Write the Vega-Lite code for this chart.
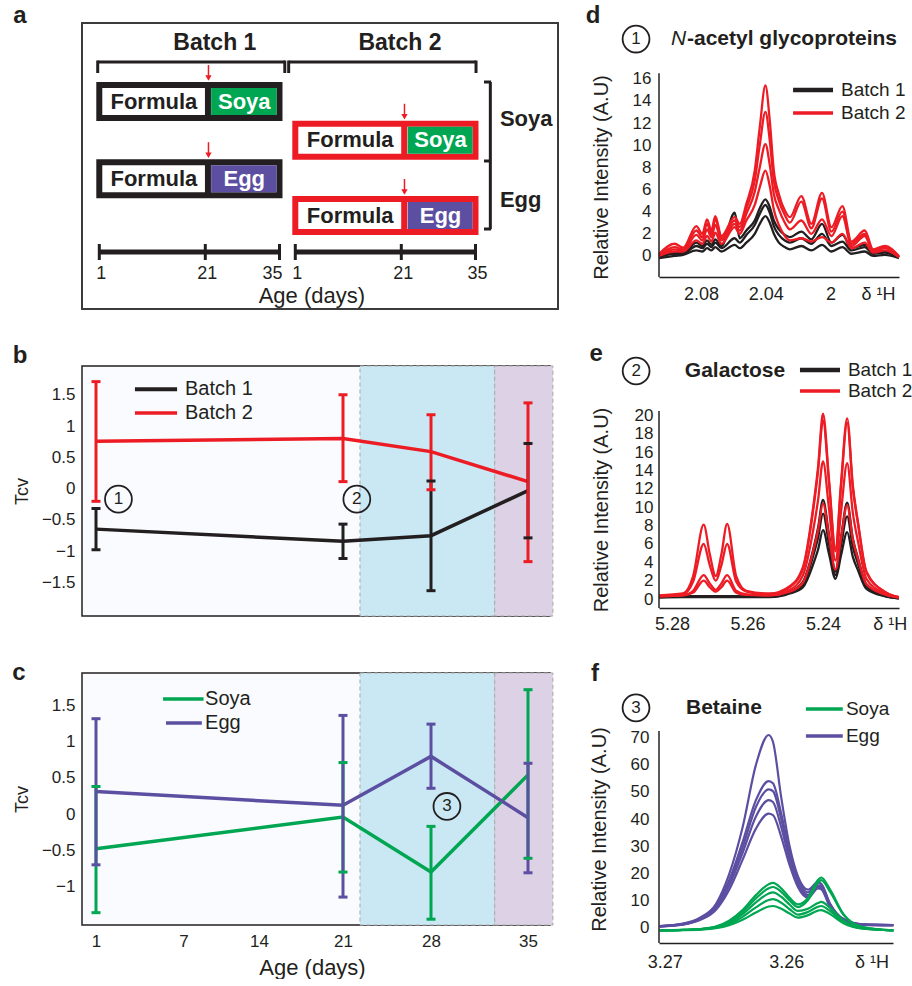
{
"$schema":"https://vega.github.io/schema/vega-lite/v6.json",
"padding":{"left":11,"top":3,"right":0,"bottom":0},
"background":"white",
"config":{"font":"Liberation Sans","view":{"stroke":null},"axis":{"labelColor":"#231f20","titleColor":"#231f20","grid":false,"ticks":false,"domain":false,"titleFontWeight":"normal"},"text":{"color":"#231f20"},"point":{"opacity":1},"tick":{"opacity":1}},
"datasets":{
"one":[{}],
"boxes1":[{"batch":"Batch 1","diet":"Soya","lvl":7.85},{"batch":"Batch 1","diet":"Egg","lvl":15.57}],
"boxes2":[{"batch":"Batch 2","diet":"Soya","lvl":11.73},{"batch":"Batch 2","diet":"Egg","lvl":19.25}],
"ticks":[{"day":1},{"day":21},{"day":35}],
"annB":[{"n":"1","age":2.54,"tcv":-0.17},{"n":"2","age":22.1,"tcv":-0.17}],
"annC":[{"n":"3","age":29.15,"tcv":0.105}],
"bio":[
{"series":"Batch 1","age":1,"mean":-0.65,"lo":-0.98,"hi":-0.32},
{"series":"Batch 1","age":21,"mean":-0.845,"lo":-1.12,"hi":-0.57},
{"series":"Batch 1","age":28,"mean":-0.755,"lo":-1.635,"hi":0.12},
{"series":"Batch 1","age":35,"mean":-0.035,"lo":-0.79,"hi":0.72},
{"series":"Batch 2","age":1,"mean":0.755,"lo":-0.205,"hi":1.71},
{"series":"Batch 2","age":21,"mean":0.8,"lo":0.11,"hi":1.5},
{"series":"Batch 2","age":28,"mean":0.59,"lo":-0.02,"hi":1.18},
{"series":"Batch 2","age":35,"mean":0.11,"lo":-1.17,"hi":1.37}],
"dietc":[
{"series":"Soya","age":1,"mean":-0.48,"lo":-1.36,"hi":0.38},
{"series":"Soya","age":21,"mean":-0.04,"lo":-0.8,"hi":0.71},
{"series":"Soya","age":28,"mean":-0.8,"lo":-1.45,"hi":-0.17},
{"series":"Soya","age":35,"mean":0.54,"lo":-0.61,"hi":1.715},
{"series":"Egg","age":1,"mean":0.31,"lo":-0.7,"hi":1.315},
{"series":"Egg","age":21,"mean":0.12,"lo":-1.145,"hi":1.36},
{"series":"Egg","age":28,"mean":0.795,"lo":0.355,"hi":1.24},
{"series":"Egg","age":35,"mean":-0.05,"lo":-0.81,"hi":0.7}],
"d1":[
{"ppm":2.106,"s1":0.0,"s2":-0.1,"s3":-0.2},
{"ppm":2.0963,"s1":0.3,"s2":0.2,"s3":0.0},
{"ppm":2.0911,"s1":0.3,"s2":0.2,"s3":0.1},
{"ppm":2.0829,"s1":1.2,"s2":0.9,"s3":0.5},
{"ppm":2.0792,"s1":0.9,"s2":0.7,"s3":0.4},
{"ppm":2.0763,"s1":1.4,"s2":1.1,"s3":0.7},
{"ppm":2.0736,"s1":1.0,"s2":0.8,"s3":0.5},
{"ppm":2.0712,"s1":1.5,"s2":1.2,"s3":0.8},
{"ppm":2.0674,"s1":0.9,"s2":0.7,"s3":0.4},
{"ppm":2.0592,"s1":3.9,"s2":1.6,"s3":1.0},
{"ppm":2.0561,"s1":1.6,"s2":1.2,"s3":0.7},
{"ppm":2.052,"s1":2.3,"s2":1.9,"s3":1.2},
{"ppm":2.0468,"s1":3.2,"s2":2.8,"s3":2.0},
{"ppm":2.0437,"s1":4.3,"s2":3.8,"s3":2.9},
{"ppm":2.0402,"s1":5.1,"s2":4.6,"s3":3.6},
{"ppm":2.0375,"s1":4.4,"s2":3.9,"s3":3.0},
{"ppm":2.035,"s1":3.2,"s2":2.7,"s3":2.0},
{"ppm":2.0319,"s1":2.4,"s2":1.9,"s3":1.2},
{"ppm":2.0282,"s1":1.9,"s2":1.4,"s3":0.8},
{"ppm":2.0251,"s1":1.7,"s2":1.2,"s3":0.6},
{"ppm":2.018,"s1":2.2,"s2":1.6,"s3":0.9},
{"ppm":2.0118,"s1":1.5,"s2":1.1,"s3":0.5},
{"ppm":2.0052,"s1":2.9,"s2":2.0,"s3":1.0},
{"ppm":1.9994,"s1":1.2,"s2":0.9,"s3":0.4},
{"ppm":1.9926,"s1":1.9,"s2":1.3,"s3":0.8},
{"ppm":1.987,"s1":0.7,"s2":0.5,"s3":0.2},
{"ppm":1.9788,"s1":1.0,"s2":0.8,"s3":0.4},
{"ppm":1.9736,"s1":0.3,"s2":0.2,"s3":0.0},
{"ppm":1.9664,"s1":0.4,"s2":0.3,"s3":0.1},
{"ppm":1.9576,"s1":-0.1,"s2":-0.1,"s3":-0.2}],
"d2":[
{"ppm":2.106,"s1":0.2,"s2":0.1,"s3":0.0,"s4":0.0},
{"ppm":2.0963,"s1":1.1,"s2":0.8,"s3":0.6,"s4":0.4},
{"ppm":2.0911,"s1":0.75,"s2":0.6,"s3":0.5,"s4":0.4},
{"ppm":2.0829,"s1":2.7,"s2":2.3,"s3":1.9,"s4":1.4},
{"ppm":2.0792,"s1":2.0,"s2":1.7,"s3":1.4,"s4":1.1},
{"ppm":2.0763,"s1":3.3,"s2":2.9,"s3":2.4,"s4":1.8},
{"ppm":2.0736,"s1":2.3,"s2":2.0,"s3":1.7,"s4":1.3},
{"ppm":2.0712,"s1":3.6,"s2":3.3,"s3":2.8,"s4":2.1},
{"ppm":2.0674,"s1":1.8,"s2":1.6,"s3":1.4,"s4":1.1},
{"ppm":2.0592,"s1":3.5,"s2":3.2,"s3":2.9,"s4":2.6},
{"ppm":2.0561,"s1":2.9,"s2":2.6,"s3":2.3,"s4":2.0},
{"ppm":2.052,"s1":4.7,"s2":4.3,"s3":3.8,"s4":3.2},
{"ppm":2.0468,"s1":7.7,"s2":6.8,"s3":5.8,"s4":4.6},
{"ppm":2.0437,"s1":11.6,"s2":10.0,"s3":8.0,"s4":6.2},
{"ppm":2.0402,"s1":15.4,"s2":13.0,"s3":10.1,"s4":7.7},
{"ppm":2.0375,"s1":12.2,"s2":10.4,"s3":8.2,"s4":6.3},
{"ppm":2.035,"s1":7.7,"s2":6.8,"s3":5.6,"s4":4.2},
{"ppm":2.0319,"s1":5.6,"s2":5.0,"s3":4.2,"s4":2.8},
{"ppm":2.0282,"s1":4.1,"s2":3.7,"s3":3.0,"s4":1.8},
{"ppm":2.0251,"s1":3.5,"s2":3.0,"s3":2.4,"s4":1.4},
{"ppm":2.018,"s1":5.4,"s2":4.9,"s3":3.2,"s4":1.6},
{"ppm":2.0118,"s1":2.9,"s2":2.5,"s3":2.0,"s4":1.3},
{"ppm":2.0052,"s1":5.7,"s2":5.2,"s3":3.3,"s4":1.7},
{"ppm":1.9994,"s1":2.6,"s2":2.2,"s3":1.8,"s4":1.2},
{"ppm":1.9926,"s1":4.5,"s2":4.0,"s3":3.6,"s4":2.0},
{"ppm":1.987,"s1":1.3,"s2":1.1,"s3":0.9,"s4":0.7},
{"ppm":1.9788,"s1":2.3,"s2":2.0,"s3":1.8,"s4":1.2},
{"ppm":1.9736,"s1":0.6,"s2":0.5,"s3":0.4,"s4":0.3},
{"ppm":1.9664,"s1":0.9,"s2":0.8,"s3":0.7,"s4":0.5},
{"ppm":1.9576,"s1":0.0,"s2":-0.1,"s3":-0.1,"s4":-0.1}],
"e1":[
{"ppm":5.2834,"s1":0.25,"s2":0.2,"s3":0.15},
{"ppm":5.2771,"s1":0.3,"s2":0.25,"s3":0.2},
{"ppm":5.2744,"s1":0.3,"s2":0.25,"s3":0.2},
{"ppm":5.2716,"s1":0.3,"s2":0.25,"s3":0.2},
{"ppm":5.27,"s1":0.3,"s2":0.25,"s3":0.2},
{"ppm":5.2684,"s1":0.3,"s2":0.25,"s3":0.2},
{"ppm":5.2669,"s1":0.3,"s2":0.25,"s3":0.2},
{"ppm":5.2654,"s1":0.3,"s2":0.25,"s3":0.2},
{"ppm":5.263,"s1":0.3,"s2":0.25,"s3":0.2},
{"ppm":5.2603,"s1":0.3,"s2":0.25,"s3":0.2},
{"ppm":5.2541,"s1":0.3,"s2":0.25,"s3":0.2},
{"ppm":5.2488,"s1":0.8,"s2":0.7,"s3":0.6},
{"ppm":5.2453,"s1":1.9,"s2":1.6,"s3":1.3},
{"ppm":5.2426,"s1":5.4,"s2":4.7,"s3":3.8},
{"ppm":5.2413,"s1":7.8,"s2":6.7,"s3":5.4},
{"ppm":5.24,"s1":10.8,"s2":9.3,"s3":7.5},
{"ppm":5.2384,"s1":7.0,"s2":6.0,"s3":4.9},
{"ppm":5.2367,"s1":3.0,"s2":2.6,"s3":2.2},
{"ppm":5.2352,"s1":6.8,"s2":5.9,"s3":4.8},
{"ppm":5.2336,"s1":10.5,"s2":9.0,"s3":7.3},
{"ppm":5.2321,"s1":6.6,"s2":5.7,"s3":4.6},
{"ppm":5.2307,"s1":4.4,"s2":3.8,"s3":3.1},
{"ppm":5.2285,"s1":1.6,"s2":1.4,"s3":1.1},
{"ppm":5.2237,"s1":0.4,"s2":0.35,"s3":0.3},
{"ppm":5.2199,"s1":0.1,"s2":0.1,"s3":0.05}],
"e2":[
{"ppm":5.2834,"s1":0.4,"s2":0.35,"s3":0.3,"s4":0.3},
{"ppm":5.2771,"s1":0.6,"s2":0.5,"s3":0.4,"s4":0.4},
{"ppm":5.2744,"s1":2.5,"s2":1.9,"s3":0.9,"s4":0.7},
{"ppm":5.2716,"s1":8.1,"s2":6.0,"s3":2.6,"s4":2.0},
{"ppm":5.27,"s1":4.9,"s2":3.7,"s3":1.7,"s4":1.3},
{"ppm":5.2684,"s1":2.5,"s2":2.0,"s3":1.0,"s4":0.8},
{"ppm":5.2669,"s1":4.9,"s2":3.7,"s3":1.7,"s4":1.3},
{"ppm":5.2654,"s1":8.2,"s2":6.0,"s3":2.6,"s4":2.0},
{"ppm":5.263,"s1":2.5,"s2":1.9,"s3":0.9,"s4":0.7},
{"ppm":5.2603,"s1":0.9,"s2":0.8,"s3":0.5,"s4":0.45},
{"ppm":5.2541,"s1":0.6,"s2":0.5,"s3":0.4,"s4":0.4},
{"ppm":5.2488,"s1":1.4,"s2":1.3,"s3":1.0,"s4":0.8},
{"ppm":5.2453,"s1":3.5,"s2":3.3,"s3":2.6,"s4":1.8},
{"ppm":5.2426,"s1":10.0,"s2":9.7,"s3":7.5,"s4":5.2},
{"ppm":5.2413,"s1":14.4,"s2":14.0,"s3":10.8,"s4":7.5},
{"ppm":5.24,"s1":20.2,"s2":19.5,"s3":15.0,"s4":10.4},
{"ppm":5.2384,"s1":13.0,"s2":12.6,"s3":9.8,"s4":6.8},
{"ppm":5.2367,"s1":5.5,"s2":5.2,"s3":4.2,"s4":3.2},
{"ppm":5.2352,"s1":12.8,"s2":12.4,"s3":9.6,"s4":6.7},
{"ppm":5.2336,"s1":19.7,"s2":19.2,"s3":14.8,"s4":10.2},
{"ppm":5.2321,"s1":12.4,"s2":12.1,"s3":9.4,"s4":6.5},
{"ppm":5.2307,"s1":8.3,"s2":8.1,"s3":6.2,"s4":4.3},
{"ppm":5.2285,"s1":3.0,"s2":2.9,"s3":2.2,"s4":1.6},
{"ppm":5.2237,"s1":0.8,"s2":0.8,"s3":0.6,"s4":0.5},
{"ppm":5.2199,"s1":0.2,"s2":0.2,"s3":0.15,"s4":0.15}],
"fs":[
{"ppm":3.2704,"s1":-1.0,"s2":-1.0,"s3":-1.0,"s4":-1.0,"s5":-1.0},
{"ppm":3.2685,"s1":-0.8,"s2":-0.8,"s3":-0.8,"s4":-0.85,"s5":-0.9},
{"ppm":3.2671,"s1":-0.5,"s2":-0.5,"s3":-0.6,"s4":-0.6,"s5":-0.7},
{"ppm":3.2658,"s1":0.4,"s2":0.3,"s3":0.2,"s4":0.0,"s5":-0.2},
{"ppm":3.2647,"s1":2.6,"s2":2.3,"s3":1.9,"s4":1.4,"s5":0.9},
{"ppm":3.2636,"s1":6.5,"s2":5.8,"s3":5.0,"s4":4.0,"s5":2.9},
{"ppm":3.2625,"s1":12.0,"s2":10.8,"s3":9.3,"s4":7.5,"s5":5.6},
{"ppm":3.26145,"s1":16.0,"s2":14.5,"s3":12.6,"s4":10.2,"s5":7.8},
{"ppm":3.2611,"s1":16.5,"s2":15.0,"s3":13.0,"s4":10.5,"s5":8.0},
{"ppm":3.26042,"s1":14.5,"s2":13.2,"s3":11.4,"s4":9.2,"s5":7.0},
{"ppm":3.25973,"s1":11.0,"s2":10.0,"s3":8.5,"s4":6.8,"s5":5.2},
{"ppm":3.25905,"s1":8.6,"s2":7.6,"s3":6.2,"s4":4.8,"s5":3.7},
{"ppm":3.25822,"s1":11.0,"s2":10.2,"s3":7.0,"s4":5.8,"s5":4.6},
{"ppm":3.2574,"s1":17.6,"s2":16.6,"s3":9.1,"s4":7.7,"s5":6.3},
{"ppm":3.25713,"s1":18.5,"s2":17.5,"s3":9.5,"s4":8.0,"s5":6.5},
{"ppm":3.2564,"s1":14.0,"s2":13.2,"s3":7.3,"s4":6.1,"s5":5.0},
{"ppm":3.2553,"s1":5.0,"s2":4.7,"s3":2.6,"s4":2.1,"s5":1.6},
{"ppm":3.2537,"s1":0.2,"s2":0.1,"s3":-0.2,"s4":-0.3,"s5":-0.4},
{"ppm":3.2512,"s1":-1.0,"s2":-1.0,"s3":-1.0,"s4":-1.0,"s5":-1.0}],
"fe":[
{"ppm":3.2704,"s1":0.6,"s2":0.6,"s3":0.5,"s4":0.5,"s5":0.4},
{"ppm":3.2685,"s1":1.5,"s2":1.4,"s3":1.3,"s4":1.2,"s5":1.1},
{"ppm":3.2671,"s1":3.7,"s2":3.4,"s3":3.2,"s4":3.0,"s5":2.8},
{"ppm":3.2658,"s1":8.6,"s2":8.0,"s3":7.6,"s4":7.0,"s5":6.5},
{"ppm":3.2647,"s1":19.7,"s2":17.5,"s3":16.5,"s4":15.5,"s5":14.0},
{"ppm":3.2636,"s1":36.9,"s2":31.5,"s3":29.5,"s4":27.5,"s5":25.0},
{"ppm":3.2625,"s1":60.0,"s2":47.0,"s3":44.5,"s4":41.0,"s5":36.5},
{"ppm":3.26145,"s1":71.0,"s2":54.0,"s3":51.0,"s4":47.0,"s5":42.0},
{"ppm":3.2611,"s1":68.5,"s2":53.2,"s3":50.3,"s4":46.3,"s5":41.5},
{"ppm":3.26042,"s1":48.0,"s2":42.0,"s3":40.0,"s4":37.0,"s5":33.5},
{"ppm":3.25973,"s1":30.0,"s2":28.0,"s3":26.5,"s4":25.0,"s5":23.0},
{"ppm":3.25905,"s1":19.0,"s2":18.0,"s3":17.0,"s4":16.0,"s5":15.0},
{"ppm":3.25822,"s1":14.0,"s2":13.0,"s3":12.0,"s4":11.5,"s5":11.0},
{"ppm":3.2574,"s1":16.8,"s2":16.5,"s3":15.6,"s4":15.0,"s5":14.5},
{"ppm":3.25713,"s1":16.2,"s2":16.0,"s3":15.2,"s4":14.6,"s5":14.2},
{"ppm":3.2564,"s1":8.8,"s2":8.6,"s3":8.2,"s4":7.8,"s5":7.5},
{"ppm":3.2553,"s1":3.2,"s2":3.1,"s3":3.0,"s4":2.9,"s5":2.8},
{"ppm":3.2537,"s1":1.2,"s2":1.2,"s3":1.1,"s4":1.1,"s5":1.0},
{"ppm":3.2512,"s1":1.0,"s2":1.0,"s3":0.9,"s4":0.9,"s5":0.8}]
},
"hconcat":[
{"vconcat":[
{"width":476,"height":286,
"view":{"stroke":"#3b3b3b","strokeWidth":2,"fill":"white"},
"data":{"name":"one"},
"resolve":{"scale":{"x":"independent"}},
"layer":[
{"layer":[
{"mark":{"type":"text","fontSize":24,"fontWeight":"bold"},"encoding":{"x":{"datum":-13.96,"type":"quantitative","scale":{"domain":[-2.264,87.55],"nice":false,"zero":false},"axis":null},"y":{"datum":-0.7,"type":"quantitative","scale":{"domain":[0,28.6],"reverse":true,"nice":false,"zero":false},"axis":null},"text":{"value":"a"}}},
{"mark":{"type":"text","fontSize":23,"fontWeight":"bold"},"encoding":{"x":{"datum":22.8,"type":"quantitative","scale":{"domain":[-2.264,87.55],"nice":false,"zero":false},"axis":null},"y":{"datum":2.0,"type":"quantitative","scale":{"domain":[0,28.6],"reverse":true,"nice":false,"zero":false},"axis":null},"text":{"value":"Batch 1"}}},
{"mark":{"type":"rule","strokeWidth":3,"color":"#231f20"},"encoding":{"x":{"datum":0.7,"type":"quantitative","scale":{"domain":[-2.264,87.55],"nice":false,"zero":false},"axis":null},"x2":{"datum":36},"y":{"datum":3.9,"type":"quantitative","scale":{"domain":[0,28.6],"reverse":true,"nice":false,"zero":false},"axis":null}}},
{"data":{"values":[{"day":0.7},{"day":36}]},"mark":{"type":"rule","strokeWidth":3,"color":"#231f20"},"encoding":{"x":{"field":"day","type":"quantitative","scale":{"domain":[-2.264,87.55],"nice":false,"zero":false},"axis":null},"y":{"datum":3.75,"type":"quantitative","scale":{"domain":[0,28.6],"reverse":true,"nice":false,"zero":false},"axis":null},"y2":{"datum":5.0}}},
{"data":{"name":"boxes1"},"mark":{"type":"rect","fill":"white","stroke":"#231f20","strokeWidth":6,"yOffset":-16.5,"y2Offset":16.5},"encoding":{"x":{"datum":1,"type":"quantitative","scale":{"domain":[-2.264,87.55],"nice":false,"zero":false},"axis":null},"x2":{"datum":35},"y":{"field":"lvl","type":"quantitative","scale":{"domain":[0,28.6],"reverse":true,"nice":false,"zero":false},"axis":null},"y2":{"field":"lvl"}}},
{"data":{"name":"boxes1"},"mark":{"type":"rule","color":"#231f20","strokeWidth":6,"yOffset":-16.5,"y2Offset":16.5},"encoding":{"x":{"datum":21.5,"type":"quantitative","scale":{"domain":[-2.264,87.55],"nice":false,"zero":false},"axis":null},"y":{"field":"lvl","type":"quantitative","scale":{"domain":[0,28.6],"reverse":true,"nice":false,"zero":false},"axis":null},"y2":{"field":"lvl"}}},
{"data":{"name":"boxes1"},"mark":{"type":"rect","yOffset":-13.5,"y2Offset":13.5},"encoding":{"x":{"datum":22.1,"type":"quantitative","scale":{"domain":[-2.264,87.55],"nice":false,"zero":false},"axis":null},"x2":{"datum":34.45},"y":{"field":"lvl","type":"quantitative","scale":{"domain":[0,28.6],"reverse":true,"nice":false,"zero":false},"axis":null},"y2":{"field":"lvl"},"fill":{"field":"diet","type":"nominal","scale":{"domain":["Soya","Egg"],"range":["#00a651","#5c4fa2"]},"legend":null}}},
{"data":{"name":"boxes1"},"mark":{"type":"text","fontSize":22,"fontWeight":"bold"},"encoding":{"x":{"datum":11.3,"type":"quantitative","scale":{"domain":[-2.264,87.55],"nice":false,"zero":false},"axis":null},"y":{"field":"lvl","type":"quantitative","scale":{"domain":[0,28.6],"reverse":true,"nice":false,"zero":false},"axis":null},"text":{"value":"Formula"}}},
{"data":{"name":"boxes1"},"mark":{"type":"text","fontSize":22,"fontWeight":"bold","color":"white"},"encoding":{"x":{"datum":28.35,"type":"quantitative","scale":{"domain":[-2.264,87.55],"nice":false,"zero":false},"axis":null},"y":{"field":"lvl","type":"quantitative","scale":{"domain":[0,28.6],"reverse":true,"nice":false,"zero":false},"axis":null},"text":{"field":"diet"}}},
{"data":{"name":"boxes1"},"mark":{"type":"rule","color":"#ed1c24","strokeWidth":1.5,"yOffset":-36.5,"y2Offset":-25},"encoding":{"x":{"datum":21.6,"type":"quantitative","scale":{"domain":[-2.264,87.55],"nice":false,"zero":false},"axis":null},"y":{"field":"lvl","type":"quantitative","scale":{"domain":[0,28.6],"reverse":true,"nice":false,"zero":false},"axis":null},"y2":{"field":"lvl"}}},
{"data":{"name":"boxes1"},"mark":{"type":"point","shape":"triangle-down","filled":true,"size":40,"color":"#ed1c24","opacity":1,"yOffset":-23.5},"encoding":{"x":{"datum":21.6,"type":"quantitative","scale":{"domain":[-2.264,87.55],"nice":false,"zero":false},"axis":null},"y":{"field":"lvl","type":"quantitative","scale":{"domain":[0,28.6],"reverse":true,"nice":false,"zero":false},"axis":null}}},
{"mark":{"type":"rule","strokeWidth":5,"color":"#231f20"},"encoding":{"x":{"datum":1,"type":"quantitative","scale":{"domain":[-2.264,87.55],"nice":false,"zero":false},"axis":null},"x2":{"datum":35},"y":{"datum":22.9,"type":"quantitative","scale":{"domain":[0,28.6],"reverse":true,"nice":false,"zero":false},"axis":null}}},
{"data":{"name":"ticks"},"mark":{"type":"tick","orient":"vertical","size":16,"thickness":3,"color":"#231f20","opacity":1},"encoding":{"x":{"field":"day","type":"quantitative","scale":{"domain":[-2.264,87.55],"nice":false,"zero":false},"axis":null},"y":{"datum":22.9,"type":"quantitative","scale":{"domain":[0,28.6],"reverse":true,"nice":false,"zero":false},"axis":null}}},
{"data":{"values":[{"day":1},{"day":21}]},"mark":{"type":"text","fontSize":18,"dx":2},"encoding":{"x":{"field":"day","type":"quantitative","scale":{"domain":[-2.264,87.55],"nice":false,"zero":false},"axis":null},"y":{"datum":25.1,"type":"quantitative","scale":{"domain":[0,28.6],"reverse":true,"nice":false,"zero":false},"axis":null},"text":{"field":"day","type":"quantitative"}}},
{"data":{"values":[{"day":35}]},"mark":{"type":"text","fontSize":18,"align":"right","dx":3},"encoding":{"x":{"field":"day","type":"quantitative","scale":{"domain":[-2.264,87.55],"nice":false,"zero":false},"axis":null},"y":{"datum":25.1,"type":"quantitative","scale":{"domain":[0,28.6],"reverse":true,"nice":false,"zero":false},"axis":null},"text":{"field":"day","type":"quantitative"}}},
{"mark":{"type":"text","fontSize":22},"encoding":{"x":{"datum":41.1,"type":"quantitative","scale":{"domain":[-2.264,87.55],"nice":false,"zero":false},"axis":null},"y":{"datum":27.3,"type":"quantitative","scale":{"domain":[0,28.6],"reverse":true,"nice":false,"zero":false},"axis":null},"text":{"value":"Age (days)"}}}
]},
{"layer":[
{"mark":{"type":"text","fontSize":23,"fontWeight":"bold"},"encoding":{"x":{"datum":20.75,"type":"quantitative","scale":{"domain":[-39.245,50.566],"nice":false,"zero":false},"axis":null},"y":{"datum":2.0,"type":"quantitative","scale":{"domain":[0,28.6],"reverse":true,"nice":false,"zero":false},"axis":null},"text":{"value":"Batch 2"}}},
{"mark":{"type":"rule","strokeWidth":3,"color":"#231f20"},"encoding":{"x":{"datum":-0.25,"type":"quantitative","scale":{"domain":[-39.245,50.566],"nice":false,"zero":false},"axis":null},"x2":{"datum":35.1},"y":{"datum":3.9,"type":"quantitative","scale":{"domain":[0,28.6],"reverse":true,"nice":false,"zero":false},"axis":null}}},
{"data":{"values":[{"day":-0.25},{"day":35.1}]},"mark":{"type":"rule","strokeWidth":3,"color":"#231f20"},"encoding":{"x":{"field":"day","type":"quantitative","scale":{"domain":[-39.245,50.566],"nice":false,"zero":false},"axis":null},"y":{"datum":3.75,"type":"quantitative","scale":{"domain":[0,28.6],"reverse":true,"nice":false,"zero":false},"axis":null},"y2":{"datum":5.0}}},
{"data":{"name":"boxes2"},"mark":{"type":"rect","fill":"white","stroke":"#ed1c24","strokeWidth":6,"yOffset":-16.5,"y2Offset":16.5},"encoding":{"x":{"datum":1,"type":"quantitative","scale":{"domain":[-39.245,50.566],"nice":false,"zero":false},"axis":null},"x2":{"datum":35},"y":{"field":"lvl","type":"quantitative","scale":{"domain":[0,28.6],"reverse":true,"nice":false,"zero":false},"axis":null},"y2":{"field":"lvl"}}},
{"data":{"name":"boxes2"},"mark":{"type":"rule","color":"#ed1c24","strokeWidth":6,"yOffset":-16.5,"y2Offset":16.5},"encoding":{"x":{"datum":21.55,"type":"quantitative","scale":{"domain":[-39.245,50.566],"nice":false,"zero":false},"axis":null},"y":{"field":"lvl","type":"quantitative","scale":{"domain":[0,28.6],"reverse":true,"nice":false,"zero":false},"axis":null},"y2":{"field":"lvl"}}},
{"data":{"name":"boxes2"},"mark":{"type":"rect","yOffset":-13.5,"y2Offset":13.5},"encoding":{"x":{"datum":22.2,"type":"quantitative","scale":{"domain":[-39.245,50.566],"nice":false,"zero":false},"axis":null},"x2":{"datum":34.45},"y":{"field":"lvl","type":"quantitative","scale":{"domain":[0,28.6],"reverse":true,"nice":false,"zero":false},"axis":null},"y2":{"field":"lvl"},"fill":{"field":"diet","type":"nominal","scale":{"domain":["Soya","Egg"],"range":["#00a651","#5c4fa2"]},"legend":null}}},
{"data":{"name":"boxes2"},"mark":{"type":"text","fontSize":22,"fontWeight":"bold"},"encoding":{"x":{"datum":11.35,"type":"quantitative","scale":{"domain":[-39.245,50.566],"nice":false,"zero":false},"axis":null},"y":{"field":"lvl","type":"quantitative","scale":{"domain":[0,28.6],"reverse":true,"nice":false,"zero":false},"axis":null},"text":{"value":"Formula"}}},
{"data":{"name":"boxes2"},"mark":{"type":"text","fontSize":22,"fontWeight":"bold","color":"white"},"encoding":{"x":{"datum":28.4,"type":"quantitative","scale":{"domain":[-39.245,50.566],"nice":false,"zero":false},"axis":null},"y":{"field":"lvl","type":"quantitative","scale":{"domain":[0,28.6],"reverse":true,"nice":false,"zero":false},"axis":null},"text":{"field":"diet"}}},
{"data":{"name":"boxes2"},"mark":{"type":"rule","color":"#ed1c24","strokeWidth":1.5,"yOffset":-36.5,"y2Offset":-25},"encoding":{"x":{"datum":21.6,"type":"quantitative","scale":{"domain":[-39.245,50.566],"nice":false,"zero":false},"axis":null},"y":{"field":"lvl","type":"quantitative","scale":{"domain":[0,28.6],"reverse":true,"nice":false,"zero":false},"axis":null},"y2":{"field":"lvl"}}},
{"data":{"name":"boxes2"},"mark":{"type":"point","shape":"triangle-down","filled":true,"size":40,"color":"#ed1c24","opacity":1,"yOffset":-23.5},"encoding":{"x":{"datum":21.6,"type":"quantitative","scale":{"domain":[-39.245,50.566],"nice":false,"zero":false},"axis":null},"y":{"field":"lvl","type":"quantitative","scale":{"domain":[0,28.6],"reverse":true,"nice":false,"zero":false},"axis":null}}},
{"mark":{"type":"rule","strokeWidth":3,"color":"#231f20"},"encoding":{"x":{"datum":37.8,"type":"quantitative","scale":{"domain":[-39.245,50.566],"nice":false,"zero":false},"axis":null},"y":{"datum":5.9,"type":"quantitative","scale":{"domain":[0,28.6],"reverse":true,"nice":false,"zero":false},"axis":null},"y2":{"datum":20.6}}},
{"data":{"values":[{"lvl":5.9},{"lvl":13.8},{"lvl":20.6}]},"mark":{"type":"rule","strokeWidth":3,"color":"#231f20"},"encoding":{"x":{"datum":36.6,"type":"quantitative","scale":{"domain":[-39.245,50.566],"nice":false,"zero":false},"axis":null},"x2":{"datum":37.95},"y":{"field":"lvl","type":"quantitative","scale":{"domain":[0,28.6],"reverse":true,"nice":false,"zero":false},"axis":null}}},
{"data":{"values":[{"diet":"Soya","lvl":9.6},{"diet":"Egg","lvl":17.7}]},"mark":{"type":"text","fontSize":22,"fontWeight":"bold","align":"left"},"encoding":{"x":{"datum":39.6,"type":"quantitative","scale":{"domain":[-39.245,50.566],"nice":false,"zero":false},"axis":null},"y":{"field":"lvl","type":"quantitative","scale":{"domain":[0,28.6],"reverse":true,"nice":false,"zero":false},"axis":null},"text":{"field":"diet"}}},
{"mark":{"type":"rule","strokeWidth":5,"color":"#231f20"},"encoding":{"x":{"datum":1,"type":"quantitative","scale":{"domain":[-39.245,50.566],"nice":false,"zero":false},"axis":null},"x2":{"datum":35},"y":{"datum":22.9,"type":"quantitative","scale":{"domain":[0,28.6],"reverse":true,"nice":false,"zero":false},"axis":null}}},
{"data":{"name":"ticks"},"mark":{"type":"tick","orient":"vertical","size":16,"thickness":3,"color":"#231f20","opacity":1},"encoding":{"x":{"field":"day","type":"quantitative","scale":{"domain":[-39.245,50.566],"nice":false,"zero":false},"axis":null},"y":{"datum":22.9,"type":"quantitative","scale":{"domain":[0,28.6],"reverse":true,"nice":false,"zero":false},"axis":null}}},
{"data":{"name":"ticks"},"mark":{"type":"text","fontSize":18,"dx":2},"encoding":{"x":{"field":"day","type":"quantitative","scale":{"domain":[-39.245,50.566],"nice":false,"zero":false},"axis":null},"y":{"datum":25.1,"type":"quantitative","scale":{"domain":[0,28.6],"reverse":true,"nice":false,"zero":false},"axis":null},"text":{"field":"day","type":"quantitative"}}}
]}
]},
{"width":468,"height":250,
"view":{"stroke":"#231f20","strokeWidth":1.5,"fill":"#f9fbfe"},
"data":{"name":"bio"},
"encoding":{
"x":{"type":"quantitative","scale":{"domain":[1,7,14,21,28,35],"range":[14,101.5,177,261,349,446],"nice":false,"zero":false},"axis":null},
"y":{"type":"quantitative","scale":{"domain":[-2.04,1.96],"nice":false,"zero":false},"axis":{"values":[-1.5,-1,-0.5,0,0.5,1,1.5],"format":"~g","title":"Tcv","titleFontSize":18,"titleX":-60,"titleBaseline":"middle","labelFontSize":17,"labelPadding":7}}},
"layer":[
{"data":{"name":"one"},"mark":{"type":"rect","fill":"#c9e8f3","stroke":"#a8a8a8","strokeWidth":1,"strokeDash":[4,3]},"encoding":{"x":{"datum":22.35},"x2":{"datum":32.6},"y":{"datum":1.96},"y2":{"datum":-2.04}}},
{"data":{"name":"one"},"mark":{"type":"rect","fill":"#ddd1e5","stroke":"#a8a8a8","strokeWidth":1,"strokeDash":[4,3]},"encoding":{"x":{"datum":32.6},"x2":{"datum":36.8},"y":{"datum":1.96},"y2":{"datum":-2.04}}},
{"mark":{"type":"line","strokeWidth":3.5},"encoding":{"x":{"field":"age"},"y":{"field":"mean"},"color":{"field":"series","type":"nominal","scale":{"domain":["Batch 1","Batch 2"],"range":["#231f20","#ed1c24"]},"legend":null}}},
{"mark":{"type":"rule","strokeWidth":3},"encoding":{"x":{"field":"age"},"y":{"field":"lo"},"y2":{"field":"hi"},"color":{"field":"series","type":"nominal","scale":{"domain":["Batch 1","Batch 2"],"range":["#231f20","#ed1c24"]},"legend":null}}},
{"mark":{"type":"tick","orient":"horizontal","size":9,"thickness":3,"opacity":1},"encoding":{"x":{"field":"age"},"y":{"field":"lo"},"color":{"field":"series","type":"nominal","scale":{"domain":["Batch 1","Batch 2"],"range":["#231f20","#ed1c24"]},"legend":null}}},
{"mark":{"type":"tick","orient":"horizontal","size":9,"thickness":3,"opacity":1},"encoding":{"x":{"field":"age"},"y":{"field":"hi"},"color":{"field":"series","type":"nominal","scale":{"domain":["Batch 1","Batch 2"],"range":["#231f20","#ed1c24"]},"legend":null}}},
{"data":{"name":"annB"},"mark":{"type":"point","shape":"circle","filled":false,"size":720,"strokeWidth":1.8,"color":"#231f20","opacity":1},"encoding":{"x":{"field":"age"},"y":{"field":"tcv"}}},
{"data":{"name":"annB"},"mark":{"type":"text","fontSize":17},"encoding":{"x":{"field":"age"},"y":{"field":"tcv"},"text":{"field":"n"}}},
{"data":{"name":"one"},"mark":{"type":"rule","strokeWidth":4,"color":"#231f20"},"encoding":{"x":{"datum":3.67},"x2":{"datum":6.56},"y":{"datum":1.59}}},
{"data":{"name":"one"},"mark":{"type":"rule","strokeWidth":3.5,"color":"#ed1c24"},"encoding":{"x":{"datum":3.67},"x2":{"datum":6.56},"y":{"datum":1.21}}},
{"data":{"name":"one"},"mark":{"type":"text","fontSize":20,"align":"left"},"encoding":{"x":{"datum":7.14},"y":{"datum":1.59},"text":{"value":"Batch 1"}}},
{"data":{"name":"one"},"mark":{"type":"text","fontSize":20,"align":"left"},"encoding":{"x":{"datum":7.14},"y":{"datum":1.21},"text":{"value":"Batch 2"}}},
{"data":{"name":"one"},"mark":{"type":"text","fontSize":24,"fontWeight":"bold"},"encoding":{"x":{"datum":-4.21},"y":{"datum":2.12},"text":{"value":"b"}}}
]},
{"width":468,"height":252,
"view":{"stroke":"#231f20","strokeWidth":1.5,"fill":"#f9fbfe"},
"data":{"name":"dietc"},
"encoding":{
"x":{"type":"quantitative","scale":{"domain":[1,7,14,21,28,35],"range":[14,101.5,177,261,349,446],"nice":false,"zero":false},"axis":{"values":[1,7,14,21,28,35],"title":"Age (days)","titleFontSize":22,"titlePadding":8,"labelFontSize":17,"labelPadding":8,"labelOverlap":false,"labelFlush":false}},
"y":{"type":"quantitative","scale":{"domain":[-1.53,1.945],"nice":false,"zero":false},"axis":{"values":[-1,-0.5,0,0.5,1,1.5],"format":"~g","title":"Tcv","titleFontSize":18,"titleX":-60,"titleBaseline":"middle","labelFontSize":17,"labelPadding":7}}},
"layer":[
{"data":{"name":"one"},"mark":{"type":"rect","fill":"#c9e8f3","stroke":"#a8a8a8","strokeWidth":1,"strokeDash":[4,3]},"encoding":{"x":{"datum":22.35},"x2":{"datum":32.6},"y":{"datum":1.945},"y2":{"datum":-1.53}}},
{"data":{"name":"one"},"mark":{"type":"rect","fill":"#ddd1e5","stroke":"#a8a8a8","strokeWidth":1,"strokeDash":[4,3]},"encoding":{"x":{"datum":32.6},"x2":{"datum":36.8},"y":{"datum":1.945},"y2":{"datum":-1.53}}},
{"mark":{"type":"line","strokeWidth":3.5},"encoding":{"x":{"field":"age"},"y":{"field":"mean"},"color":{"field":"series","type":"nominal","scale":{"domain":["Soya","Egg"],"range":["#00a651","#5c4fa2"]},"legend":null}}},
{"mark":{"type":"rule","strokeWidth":3},"encoding":{"x":{"field":"age"},"y":{"field":"lo"},"y2":{"field":"hi"},"color":{"field":"series","type":"nominal","scale":{"domain":["Soya","Egg"],"range":["#00a651","#5c4fa2"]},"legend":null}}},
{"mark":{"type":"tick","orient":"horizontal","size":9,"thickness":3,"opacity":1},"encoding":{"x":{"field":"age"},"y":{"field":"lo"},"color":{"field":"series","type":"nominal","scale":{"domain":["Soya","Egg"],"range":["#00a651","#5c4fa2"]},"legend":null}}},
{"mark":{"type":"tick","orient":"horizontal","size":9,"thickness":3,"opacity":1},"encoding":{"x":{"field":"age"},"y":{"field":"hi"},"color":{"field":"series","type":"nominal","scale":{"domain":["Soya","Egg"],"range":["#00a651","#5c4fa2"]},"legend":null}}},
{"data":{"name":"annC"},"mark":{"type":"point","shape":"circle","filled":false,"size":720,"strokeWidth":1.8,"color":"#231f20","opacity":1},"encoding":{"x":{"field":"age"},"y":{"field":"tcv"}}},
{"data":{"name":"annC"},"mark":{"type":"text","fontSize":17},"encoding":{"x":{"field":"age"},"y":{"field":"tcv"},"text":{"field":"n"}}},
{"data":{"name":"one"},"mark":{"type":"rule","strokeWidth":3.5,"color":"#00a651"},"encoding":{"x":{"datum":5.6},"x2":{"datum":8.86},"y":{"datum":1.586}}},
{"data":{"name":"one"},"mark":{"type":"rule","strokeWidth":3.5,"color":"#5c4fa2"},"encoding":{"x":{"datum":5.8},"x2":{"datum":8.7},"y":{"datum":1.255}}},
{"data":{"name":"one"},"mark":{"type":"text","fontSize":20,"align":"left"},"encoding":{"x":{"datum":9.0},"y":{"datum":1.586},"text":{"value":"Soya"}}},
{"data":{"name":"one"},"mark":{"type":"text","fontSize":20,"align":"left"},"encoding":{"x":{"datum":9.0},"y":{"datum":1.255},"text":{"value":"Egg"}}},
{"data":{"name":"one"},"mark":{"type":"text","fontSize":24,"fontWeight":"bold"},"encoding":{"x":{"datum":-4.29},"y":{"datum":1.95},"text":{"value":"c"}}}
]}
],"spacing":57,"bounds":"flush","resolve":{"scale":{"color":"independent","fill":"independent"}}},
{"vconcat":[
{"width":240,"height":254,
"data":{"name":"one"},
"encoding":{
"x":{"type":"quantitative","scale":{"domain":[1.9576,2.106],"reverse":true,"nice":false,"zero":false},"axis":{"values":[2.08,2.04,2.0,1.9706],"labelExpr":"datum.value < 1.975 ? 'δ ¹H' : format(datum.value, '~g')","title":null,"domain":true,"domainColor":"#231f20","domainWidth":1.5,"labelFontSize":18,"labelPadding":8,"labelOverlap":false,"labelFlush":false}},
"y":{"type":"quantitative","scale":{"domain":[-1.9,21.03],"nice":false,"zero":false},"axis":{"values":[0,2,4,6,8,10,12,14,16],"title":"Relative Intensity (A.U)","titleFontSize":20,"titleX":-58,"titleY":154,"titleBaseline":"middle","labelFontSize":17,"labelPadding":8}}},
"layer":[
{"data":{"name":"d1"},"transform":[{"fold":["s1","s2","s3"],"as":["spec","intensity"]}],"mark":{"type":"line","color":"#231f20","strokeWidth":2.3,"interpolate":"monotone"},"encoding":{"x":{"field":"ppm"},"y":{"field":"intensity"},"detail":{"field":"spec","type":"nominal"}}},
{"data":{"name":"d2"},"transform":[{"fold":["s1","s2","s3","s4"],"as":["spec","intensity"]}],"mark":{"type":"line","color":"#ed1c24","strokeWidth":2.3,"interpolate":"monotone"},"encoding":{"x":{"field":"ppm"},"y":{"field":"intensity"},"detail":{"field":"spec","type":"nominal"}}},
{"mark":{"type":"rule","color":"#231f20","strokeWidth":1.5},"encoding":{"x":{"datum":2.106},"y":{"datum":-1.9},"y2":{"datum":16.5}}},
{"mark":{"type":"text","fontSize":24,"fontWeight":"bold"},"encoding":{"x":{"datum":2.1468},"y":{"datum":21.66},"text":{"value":"d"}}},
{"mark":{"type":"point","shape":"circle","filled":false,"size":720,"strokeWidth":1.8,"color":"#231f20","opacity":1},"encoding":{"x":{"datum":2.1202},"y":{"datum":19.58}}},
{"mark":{"type":"text","fontSize":17},"encoding":{"x":{"datum":2.1202},"y":{"datum":19.58},"text":{"value":"1"}}},
{"mark":{"type":"text","fontSize":21,"fontStyle":"italic","align":"left"},"encoding":{"x":{"datum":2.0986},"y":{"datum":19.58},"text":{"value":"N"}}},
{"mark":{"type":"text","fontSize":21,"fontWeight":"bold","align":"left"},"encoding":{"x":{"datum":2.0887},"y":{"datum":19.58},"text":{"value":"-acetyl glycoproteins"}}},
{"mark":{"type":"rule","strokeWidth":4.5,"color":"#231f20"},"encoding":{"x":{"datum":2.0231},"x2":{"datum":1.9984},"y":{"datum":14.98}}},
{"mark":{"type":"rule","strokeWidth":3.5,"color":"#ed1c24"},"encoding":{"x":{"datum":2.0231},"x2":{"datum":1.9984},"y":{"datum":12.9}}},
{"mark":{"type":"text","fontSize":19,"align":"left"},"encoding":{"x":{"datum":1.9934},"y":{"datum":14.98},"text":{"value":"Batch 1"}}},
{"mark":{"type":"text","fontSize":19,"align":"left"},"encoding":{"x":{"datum":1.9934},"y":{"datum":12.9},"text":{"value":"Batch 2"}}}
]},
{"width":240,"height":278,
"data":{"name":"one"},
"encoding":{
"x":{"type":"quantitative","scale":{"domain":[5.21987,5.28344],"reverse":true,"nice":false,"zero":false},"axis":{"values":[5.28,5.26,5.24,5.2223],"labelExpr":"datum.value < 5.23 ? 'δ ¹H' : format(datum.value, '.2f')","title":null,"domain":true,"domainColor":"#231f20","domainWidth":1.5,"labelFontSize":18,"labelPadding":7,"labelOverlap":false,"labelFlush":false}},
"y":{"type":"quantitative","scale":{"domain":[-0.98,29.33],"nice":false,"zero":false},"axis":{"values":[0,2,4,6,8,10,12,14,16,18,20],"title":"Relative Intensity (A.U)","titleFontSize":20,"titleX":-58,"titleY":179.5,"titleBaseline":"middle","labelFontSize":17,"labelPadding":6}}},
"layer":[
{"data":{"name":"e1"},"transform":[{"fold":["s1","s2","s3"],"as":["spec","intensity"]}],"mark":{"type":"line","color":"#231f20","strokeWidth":2.3,"interpolate":"monotone"},"encoding":{"x":{"field":"ppm"},"y":{"field":"intensity"},"detail":{"field":"spec","type":"nominal"}}},
{"data":{"name":"e2"},"transform":[{"fold":["s1","s2","s3","s4"],"as":["spec","intensity"]}],"mark":{"type":"line","color":"#ed1c24","strokeWidth":2.3,"interpolate":"monotone"},"encoding":{"x":{"field":"ppm"},"y":{"field":"intensity"},"detail":{"field":"spec","type":"nominal"}}},
{"mark":{"type":"rule","color":"#231f20","strokeWidth":1.5},"encoding":{"x":{"datum":5.28344},"y":{"datum":-0.98},"y2":{"datum":20.5}}},
{"mark":{"type":"text","fontSize":24,"fontWeight":"bold"},"encoding":{"x":{"datum":5.3001},"y":{"datum":26.72},"text":{"value":"e"}}},
{"mark":{"type":"point","shape":"circle","filled":false,"size":720,"strokeWidth":1.8,"color":"#231f20","opacity":1},"encoding":{"x":{"datum":5.2895},"y":{"datum":24.86}}},
{"mark":{"type":"text","fontSize":17},"encoding":{"x":{"datum":5.2895},"y":{"datum":24.86},"text":{"value":"2"}}},
{"mark":{"type":"text","fontSize":21,"fontWeight":"bold","align":"left"},"encoding":{"x":{"datum":5.2766},"y":{"datum":24.86},"text":{"value":"Galactose"}}},
{"mark":{"type":"rule","strokeWidth":4.5,"color":"#231f20"},"encoding":{"x":{"datum":5.2461},"x2":{"datum":5.2355},"y":{"datum":24.97}}},
{"mark":{"type":"rule","strokeWidth":3.5,"color":"#ed1c24"},"encoding":{"x":{"datum":5.2461},"x2":{"datum":5.2355},"y":{"datum":22.68}}},
{"mark":{"type":"text","fontSize":19,"align":"left"},"encoding":{"x":{"datum":5.2334},"y":{"datum":24.97},"text":{"value":"Batch 1"}}},
{"mark":{"type":"text","fontSize":19,"align":"left"},"encoding":{"x":{"datum":5.2334},"y":{"datum":22.68},"text":{"value":"Batch 2"}}}
]},
{"width":234,"height":282,
"data":{"name":"one"},
"encoding":{
"x":{"type":"quantitative","scale":{"domain":[3.25123,3.27047],"reverse":true,"nice":false,"zero":false},"axis":{"values":[3.27,3.26,3.253],"labelExpr":"datum.value < 3.255 ? 'δ ¹H' : format(datum.value, '.2f')","title":null,"domain":true,"domainColor":"#231f20","domainWidth":1.5,"labelFontSize":18,"labelPadding":10,"labelOverlap":false,"labelFlush":false}},
"y":{"type":"quantitative","scale":{"domain":[-5.64,98.27],"nice":false,"zero":false},"axis":{"values":[0,10,20,30,40,50,60,70],"title":"Relative Intensity (A.U)","titleFontSize":20,"titleX":-60,"titleY":168,"titleBaseline":"middle","labelFontSize":17,"labelPadding":10}}},
"layer":[
{"data":{"name":"fe"},"transform":[{"fold":["s1","s2","s3","s4","s5"],"as":["spec","intensity"]}],"mark":{"type":"line","color":"#5c4fa2","strokeWidth":2.2,"interpolate":"monotone"},"encoding":{"x":{"field":"ppm"},"y":{"field":"intensity"},"detail":{"field":"spec","type":"nominal"}}},
{"data":{"name":"fs"},"transform":[{"fold":["s1","s2","s3","s4","s5"],"as":["spec","intensity"]}],"mark":{"type":"line","color":"#00a651","strokeWidth":2.2,"interpolate":"monotone"},"encoding":{"x":{"field":"ppm"},"y":{"field":"intensity"},"detail":{"field":"spec","type":"nominal"}}},
{"mark":{"type":"rule","color":"#231f20","strokeWidth":1.5},"encoding":{"x":{"datum":3.27047},"y":{"datum":-5.64},"y2":{"datum":72.5}}},
{"mark":{"type":"text","fontSize":24,"fontWeight":"bold"},"encoding":{"x":{"datum":3.27573},"y":{"datum":93.5},"text":{"value":"f"}}},
{"mark":{"type":"point","shape":"circle","filled":false,"size":720,"strokeWidth":1.8,"color":"#231f20","opacity":1},"encoding":{"x":{"datum":3.27236},"y":{"datum":81.0}}},
{"mark":{"type":"text","fontSize":17},"encoding":{"x":{"datum":3.27236},"y":{"datum":81.0},"text":{"value":"3"}}},
{"mark":{"type":"text","fontSize":21,"fontWeight":"bold","align":"left"},"encoding":{"x":{"datum":3.26825},"y":{"datum":81.0},"text":{"value":"Betaine"}}},
{"mark":{"type":"rule","strokeWidth":3.5,"color":"#00a651"},"encoding":{"x":{"datum":3.25839},"x2":{"datum":3.25536},"y":{"datum":80.6}}},
{"mark":{"type":"rule","strokeWidth":3.5,"color":"#5c4fa2"},"encoding":{"x":{"datum":3.25839},"x2":{"datum":3.25536},"y":{"datum":70.6}}},
{"mark":{"type":"text","fontSize":19,"align":"left"},"encoding":{"x":{"datum":3.2551},"y":{"datum":80.6},"text":{"value":"Soya"}}},
{"mark":{"type":"text","fontSize":19,"align":"left"},"encoding":{"x":{"datum":3.2551},"y":{"datum":70.6},"text":{"value":"Egg"}}}
]}
],"spacing":53,"bounds":"flush"}
],
"spacing":26,
"resolve":{"scale":{"color":"independent","fill":"independent"}}
}
